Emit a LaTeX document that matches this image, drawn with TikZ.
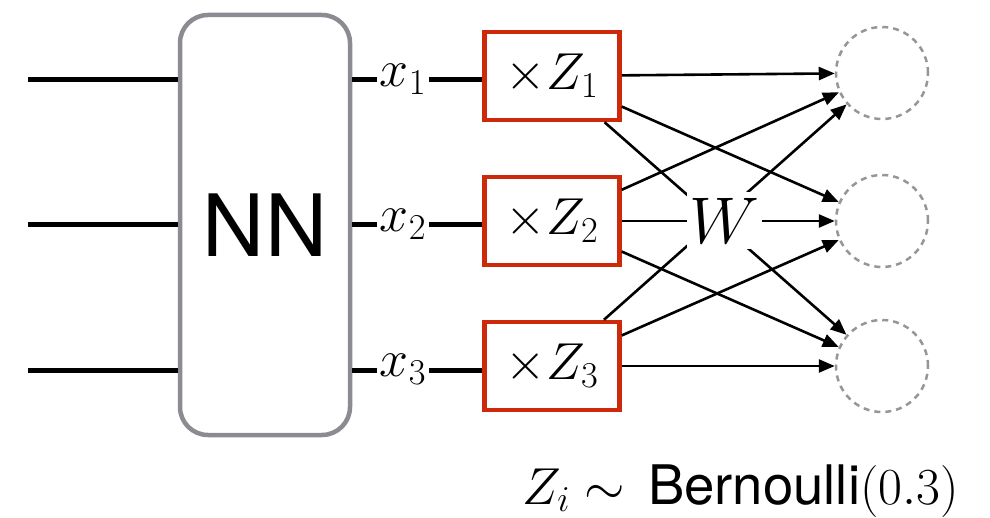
\RequirePackage{fix-cm}
\documentclass[tikz,border=0pt]{standalone}
\usepackage{fontspec}
\newfontfamily\blockfont{TeX Gyre Heros}
\usetikzlibrary{arrows.meta}
\definecolor{dropred}{RGB}{204,42,10}
\definecolor{nngray}{RGB}{138,140,145}
\definecolor{unitgray}{RGB}{150,150,150}

\begin{document}
\begin{tikzpicture}[x=1pt,y=-1pt,
  wire/.style={line width=5pt},
  mask/.style={draw=dropred, line width=4.5pt, minimum width=135pt,
    minimum height=88pt, inner sep=0pt, font=\fontsize{52}{60}\selectfont},
  unit/.style={circle, draw=unitgray, dash pattern=on 6pt off 5pt,
    line width=2.5pt, minimum size=92pt, inner sep=0pt},
  conn/.style={line width=2.6pt, -{Triangle[length=16pt,width=13pt]}},
  lbl/.style={inner sep=3pt, font=\fontsize{52}{60}\selectfont}]

\useasboundingbox (0,0) rectangle (990,518);

% the network block
\node[draw=nngray, line width=4.5pt, rounded corners=28pt,
  minimum width=170pt, minimum height=420pt,
  font=\blockfont\fontsize{86}{90}\selectfont] (nn) at (265,225) {NN};

% inputs, outputs x_i and dropout masks
\foreach \i/\yl/\yb in {1/80/76, 2/225/221, 3/370/366} {
  \coordinate (in\i) at (28,\yl);
  \node[lbl, anchor=base] (x\i) at (403,\yl+7) {$x_\i$};
  \node[mask] (b\i) at (552,\yb) {$\times Z_\i$};
  \draw[wire] (in\i) -- (in\i -| nn.west);
  \draw[wire] (nn.east |- in\i) -- (x\i.west |- in\i);
  \draw[wire] (x\i.east |- in\i) -- (b\i.west |- in\i);
}

% next layer units
\node[unit] (o1) at (882,73) {};
\node[unit] (o2) at (882,221) {};
\node[unit] (o3) at (882,366) {};

% fully connected weights
\foreach \i in {1,2,3} {
  \foreach \j in {1,2,3} {
    \draw[conn] (b\i) -- (o\j);
  }
}

\node[fill=white, inner sep=0pt, minimum width=75pt, minimum height=57pt,
  font=\fontsize{66}{70}\selectfont] (w) at (724,221) {$W$};

\node[anchor=base east, inner sep=0pt, font=\fontsize{52}{60}\selectfont]
  (dist) at (959,504)
  {$Z_i \sim\mskip 3mu \mbox{\blockfont\fontsize{54.5}{60}\selectfont Bernoulli}(0.3)$};
\end{tikzpicture}
\end{document}
